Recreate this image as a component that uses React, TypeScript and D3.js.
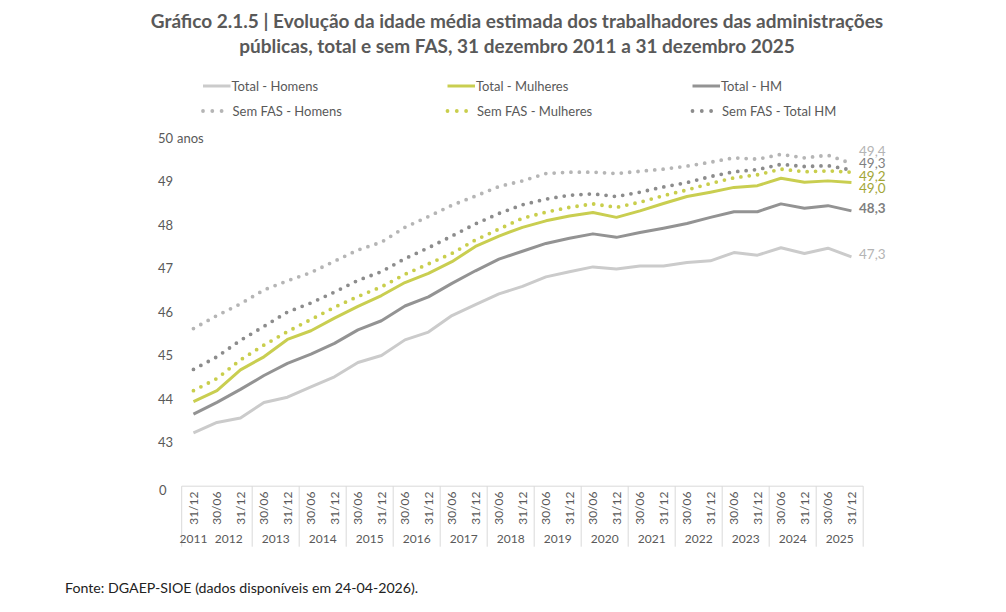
import React, { useEffect, useRef } from 'react'
import * as d3 from 'd3'

// Periods (semesters), 31/12/2011 .. 31/12/2025
const dates = ['31/12', ...d3.range(2012, 2026).flatMap(() => ['30/06', '31/12'])]
const years = d3.range(2011, 2026)

const totalHomens = [43.22, 43.46, 43.56, 43.92, 44.04, 44.28, 44.51, 44.84, 45.0, 45.36, 45.54, 45.92, 46.17, 46.42, 46.59, 46.81, 46.93, 47.04, 46.99, 47.06, 47.06, 47.14, 47.18, 47.37, 47.31, 47.48, 47.35, 47.47, 47.27]
const totalMulheres = [43.94, 44.19, 44.67, 44.97, 45.37, 45.57, 45.86, 46.13, 46.38, 46.68, 46.89, 47.16, 47.51, 47.75, 47.95, 48.1, 48.21, 48.29, 48.18, 48.33, 48.5, 48.66, 48.76, 48.87, 48.91, 49.08, 48.99, 49.02, 48.98]
const totalHM = [43.65, 43.92, 44.22, 44.54, 44.82, 45.03, 45.28, 45.59, 45.8, 46.14, 46.35, 46.66, 46.95, 47.22, 47.4, 47.58, 47.7, 47.8, 47.72, 47.83, 47.93, 48.04, 48.18, 48.31, 48.31, 48.49, 48.39, 48.45, 48.33]
const semFasHomens = [45.62, 45.92, 46.19, 46.51, 46.72, 46.91, 47.17, 47.43, 47.61, 47.95, 48.2, 48.46, 48.67, 48.89, 49.02, 49.19, 49.22, 49.22, 49.19, 49.24, 49.29, 49.36, 49.45, 49.55, 49.52, 49.63, 49.55, 49.61, 49.42]
const semFasMulheres = [44.19, 44.47, 44.9, 45.24, 45.55, 45.83, 46.11, 46.36, 46.58, 46.87, 47.11, 47.35, 47.66, 47.91, 48.16, 48.3, 48.41, 48.49, 48.41, 48.53, 48.68, 48.81, 48.96, 49.09, 49.16, 49.29, 49.23, 49.25, 49.22]
const semFasHM = [44.68, 44.97, 45.35, 45.67, 46.0, 46.21, 46.46, 46.73, 46.93, 47.23, 47.48, 47.75, 48.03, 48.27, 48.47, 48.6, 48.69, 48.72, 48.66, 48.76, 48.88, 48.98, 49.12, 49.23, 49.28, 49.4, 49.35, 49.37, 49.27]

const seriesNames = ['Total - Homens', 'Total - Mulheres', 'Total - HM', 'Sem FAS - Homens', 'Sem FAS - Mulheres', 'Sem FAS - Total HM']
const seriesValues = [totalHomens, totalMulheres, totalHM, semFasHomens, semFasMulheres, semFasHM]

// y axis: broken axis, "0" shown just under 43
const yTicks = [43, 44, 45, 46, 47, 48, 49, 50]
const yZeroAt = 41.9

const FONT = 'Lato, "Open Sans", sans-serif'
const TEXT = '#595959'

const styles = [
  { color: '#cbcbcb', dotted: false, label: '#b4b4b4', bold: false },
  { color: '#c9ce50', dotted: false, label: '#a3a636', bold: false },
  { color: '#939393', dotted: false, label: '#7f7f7f', bold: true },
  { color: '#b5b5b5', dotted: true, label: '#b4b4b4', bold: false },
  { color: '#c9ce4c', dotted: true, label: '#a3a636', bold: false },
  { color: '#8c8c8c', dotted: true, label: '#7f7f7f', bold: false },
]

export default function App() {
  const svgRef = useRef<SVGSVGElement>(null)

  useEffect(() => {
    const svg = d3.select(svgRef.current)
    svg.selectAll('*').remove()

    const width = 1006
    const height = 612

    const x = d3.scaleBand<number>()
      .domain(d3.range(dates.length))
      .range([181.7, 863.2])
      .paddingInner(0)
    const cx = (i: number) => (x(i) as number) + x.bandwidth() / 2

    const y = d3.scaleLinear().domain([43, 50]).range([442.4, 138.3])

    // Title
    const title = svg.append('g')
      .attr('font-family', FONT)
      .attr('font-weight', 700)
      .attr('fill', TEXT)
      .attr('font-size', 19)
      .attr('text-anchor', 'middle')
    title.append('text').attr('x', 517).attr('y', 27.5)
      .text('Gráfico 2.1.5 | Evolução da idade média estimada dos trabalhadores das administrações')
    title.append('text').attr('x', 517).attr('y', 52.5)
      .text('públicas, total e sem FAS, 31 dezembro 2011 a 31 dezembro 2025')

    // Legend
    const legend = svg.append('g').attr('font-family', FONT).attr('font-size', 13).attr('fill', TEXT)
    const legendCols = [203, 447.5, 692.5]
    const legendRows = [86, 111]
    seriesNames.forEach((name, k) => {
      const col = k % 3
      const row = Math.floor(k / 3)
      const st = styles[k]
      const lx = legendCols[col]
      const ly = legendRows[row]
      if (st.dotted) {
        ;[0, 9.3, 18.6].forEach(d => {
          legend.append('circle').attr('cx', lx + d).attr('cy', ly).attr('r', 1.9).attr('fill', st.color)
        })
        legend.append('text').attr('x', lx + 29.5).attr('y', ly).attr('dy', '0.35em').text(name)
      } else {
        legend.append('line')
          .attr('x1', lx).attr('x2', lx + 27.5)
          .attr('y1', ly).attr('y2', ly)
          .attr('stroke', st.color).attr('stroke-width', 3)
        legend.append('text').attr('x', lx + 28.5).attr('y', ly).attr('dy', '0.35em').text(name)
      }
    })

    // Y axis labels
    const yAxis = svg.append('g').attr('font-family', FONT).attr('font-size', 13).attr('fill', TEXT)
    yTicks.forEach(t => {
      yAxis.append('text').attr('x', 158).attr('y', y(t)).attr('dy', '0.35em').text(String(t))
    })
    yAxis.append('text').attr('x', 159).attr('y', y(yZeroAt)).attr('dy', '0.35em').text('0')
    yAxis.append('text').attr('x', 177).attr('y', y(50)).attr('dy', '0.35em').text('anos')

    // X axis table
    const tableTop = y(yZeroAt) - 4
    const tableBottom = tableTop + 60.5
    const axis = svg.append('g')
    axis.append('line')
      .attr('x1', x.range()[0]).attr('x2', x.range()[1])
      .attr('y1', tableTop).attr('y2', tableTop)
      .attr('stroke', '#d9d9d9').attr('stroke-width', 1)
    const boundaries = [0, ...years.slice(1).map((_, k) => 1 + 2 * (k + 1))]
    boundaries.forEach(b => {
      const bx = b < dates.length ? (x(b) as number) : x.range()[1]
      axis.append('line')
        .attr('x1', bx).attr('x2', bx)
        .attr('y1', tableTop).attr('y2', tableBottom)
        .attr('stroke', '#d9d9d9').attr('stroke-width', 1)
    })
    const axisText = axis.append('g').attr('font-family', FONT).attr('font-size', 12).attr('fill', TEXT)
    dates.forEach((d, i) => {
      axisText.append('text')
        .attr('transform', `translate(${cx(i)}, ${tableTop + 22}) rotate(-90)`)
        .attr('text-anchor', 'middle')
        .attr('dy', '0.35em')
        .text(d)
    })
    years.forEach((yr, k) => {
      const i0 = k === 0 ? 0 : 2 * k - 1
      const i1 = k === 0 ? 0 : 2 * k
      const mx = (cx(i0) + cx(i1)) / 2
      axisText.append('text')
        .attr('x', mx).attr('y', tableTop + 53)
        .attr('text-anchor', 'middle')
        .attr('dy', '0.35em')
        .text(String(yr))
    })

    // Lines
    const line = d3.line<number>().x((_, i) => cx(i)).y(v => y(v)).curve(d3.curveLinear)
    const order = [0, 2, 1, 3, 5, 4]
    order.forEach(k => {
      const st = styles[k]
      const path = svg.append('path')
        .datum(seriesValues[k])
        .attr('d', line)
        .attr('fill', 'none')
        .attr('stroke', st.color)
        .attr('stroke-linejoin', 'round')
      if (st.dotted) {
        path.attr('stroke-width', 3.8).attr('stroke-linecap', 'round').attr('stroke-dasharray', '0 8.4')
      } else {
        path.attr('stroke-width', 3)
      }
    })

    // End labels with simple collision avoidance
    const last = dates.length - 1
    const labels = seriesValues.map((vals, k) => ({ k, v: vals[last], pos: y(vals[last]) }))
      .sort((a, b) => a.pos - b.pos)
    const gap = 12.5
    for (let iter = 0; iter < 100; iter++) {
      for (let j = 1; j < labels.length; j++) {
        const d = labels[j].pos - labels[j - 1].pos
        if (d < gap) {
          const shift = (gap - d) / 2
          labels[j].pos += shift
          labels[j - 1].pos -= shift
        }
      }
    }
    const fmt = (v: number) => v.toFixed(1).replace('.', ',')
    const endG = svg.append('g').attr('font-family', FONT).attr('font-size', 13.5)
    labels.forEach(l => {
      const st = styles[l.k]
      endG.append('text')
        .attr('x', 859)
        .attr('y', l.pos - 2.5)
        .attr('dy', '0.35em')
        .attr('fill', st.label)
        .attr('font-weight', st.bold ? 700 : 400)
        .text(fmt(l.v))
    })

    // Source
    svg.append('text')
      .attr('x', 65).attr('y', 588)
      .attr('dy', '0.35em')
      .attr('font-family', FONT)
      .attr('font-size', 14.2)
      .attr('fill', '#222')
      .text('Fonte: DGAEP-SIOE (dados disponíveis em 24-04-2026).')

    svg.attr('width', width).attr('height', height)
  }, [])

  return (
    <div style={{ position: 'fixed', left: 0, top: 0, background: '#fff' }}>
      <svg ref={svgRef} width={1006} height={612} style={{ display: 'block' }} />
    </div>
  )
}
